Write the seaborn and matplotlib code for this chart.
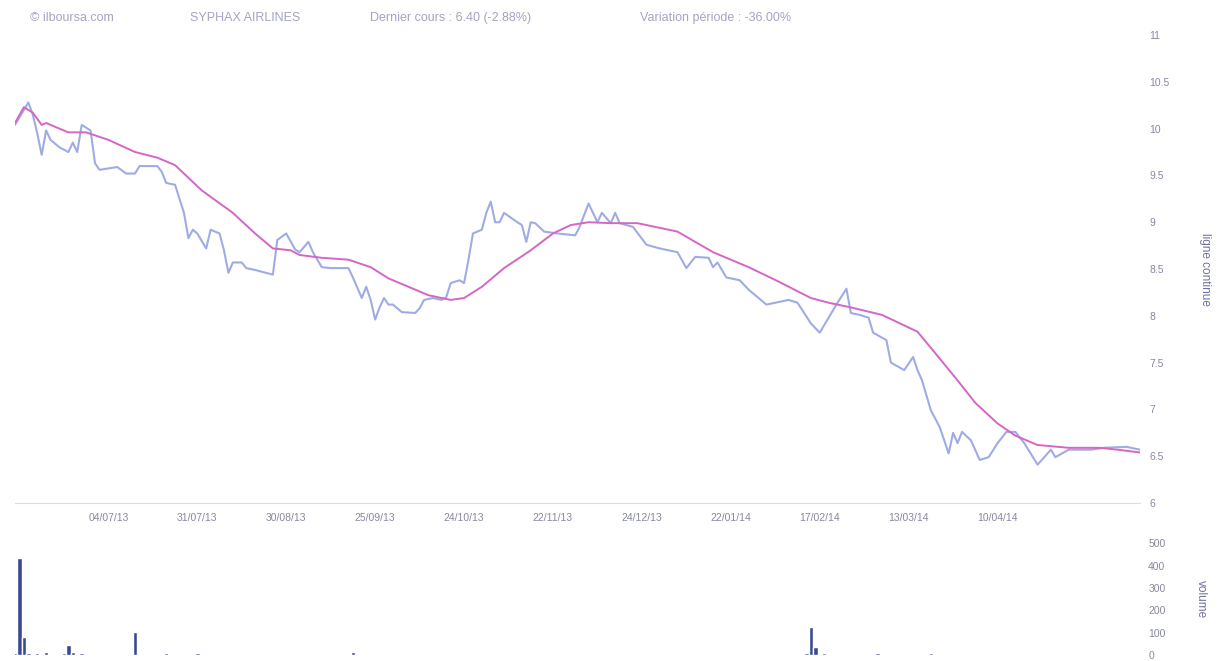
import pandas as pd
import seaborn as sns
import matplotlib.pyplot as plt

# sessions (trading-day index) and closing price
price_sessions = [0, 3, 4, 5, 6, 7, 8, 10, 12, 13, 14, 15, 17, 18, 19, 23, 25, 27, 28, 32,
                  33, 34, 36, 38, 39, 40, 41, 43, 44, 46, 47, 48, 49, 51, 52, 54, 58, 59, 61, 63,
                  64, 66, 67, 69, 71, 75, 76, 78, 79, 80, 81, 82, 83, 84, 85, 87, 90, 91, 92, 94,
                  96, 97, 98, 100, 101, 102, 103, 105, 106, 107, 108, 109, 110, 113, 114, 115, 116, 117, 119, 122,
                  126, 127, 129, 131, 132, 134, 135, 136, 139, 142, 145, 149, 151, 153, 156, 157, 158, 160, 163, 165,
                  167, 169, 174, 176, 179, 181, 185, 187, 188, 190, 192, 193, 196, 197, 200, 202, 203, 204, 206, 208,
                  210, 211, 212, 213, 215, 217, 219, 221, 223, 225, 227, 230, 233, 234, 237, 242, 245, 250, 253]
price = [10.04, 10.28, 10.15, 9.95, 9.72, 9.98, 9.88, 9.80, 9.75, 9.85, 9.75, 10.04, 9.98, 9.63, 9.56, 9.59, 9.52, 9.52, 9.60, 9.60,
         9.54, 9.42, 9.40, 9.10, 8.83, 8.92, 8.88, 8.72, 8.92, 8.88, 8.70, 8.46, 8.57, 8.57, 8.51, 8.49, 8.44, 8.81, 8.88, 8.71,
         8.68, 8.79, 8.68, 8.52, 8.51, 8.51, 8.41, 8.19, 8.31, 8.17, 7.96, 8.09, 8.19, 8.12, 8.12, 8.04, 8.03, 8.08, 8.17, 8.19,
         8.17, 8.20, 8.35, 8.38, 8.35, 8.60, 8.88, 8.92, 9.10, 9.22, 9.00, 9.00, 9.10, 9.00, 8.97, 8.79, 9.00, 8.99, 8.90, 8.88,
         8.86, 8.95, 9.20, 9.00, 9.10, 8.99, 9.10, 8.99, 8.95, 8.76, 8.72, 8.68, 8.51, 8.63, 8.62, 8.52, 8.57, 8.41, 8.38, 8.28,
         8.20, 8.12, 8.17, 8.14, 7.92, 7.82, 8.14, 8.29, 8.03, 8.01, 7.98, 7.82, 7.74, 7.50, 7.42, 7.56, 7.42, 7.31, 6.99, 6.81,
         6.53, 6.75, 6.64, 6.76, 6.67, 6.46, 6.49, 6.64, 6.76, 6.76, 6.64, 6.41, 6.57, 6.49, 6.57, 6.57, 6.59, 6.60, 6.57]

# moving average line
ma_sessions = [0, 2, 4, 6, 7, 12, 16, 21, 27, 32, 36, 42, 49, 54, 58, 62, 64, 69, 75, 80,
               84, 89, 93, 98, 101, 105, 110, 116, 121, 125, 129, 134, 140, 149, 157, 165, 172, 179, 183, 188,
               195, 203, 207, 212, 216, 221, 225, 230, 237, 244, 248, 253]
ma = [10.06, 10.23, 10.17, 10.04, 10.06, 9.96, 9.96, 9.88, 9.75, 9.69, 9.61, 9.34, 9.10, 8.88, 8.72, 8.70, 8.65, 8.62, 8.60, 8.52,
      8.40, 8.30, 8.22, 8.17, 8.19, 8.31, 8.51, 8.70, 8.88, 8.97, 9.00, 8.99, 8.99, 8.90, 8.68, 8.52, 8.36, 8.19, 8.14, 8.09,
      8.01, 7.83, 7.60, 7.31, 7.07, 6.85, 6.72, 6.62, 6.59, 6.59, 6.57, 6.54]

# traded volume
vol_sessions = [0, 1, 2, 3, 5, 7, 9, 11, 12, 13, 15, 20, 25, 27, 29, 34, 37, 39, 41, 43,
                45, 48, 59, 60, 63, 66, 69, 75, 76, 78, 80, 82, 84, 100, 120, 140, 151, 162, 175, 178,
                179, 180, 182, 184, 186, 190, 194, 198, 203, 206, 210, 212, 220, 224, 228, 240, 249]
volume = [8, 435, 80, 10, 8, 12, 6, 8, 45, 14, 10, 5, 4, 103, 6, 8, 6, 6, 7, 6,
          5, 4, 5, 6, 5, 6, 5, 5, 15, 6, 5, 6, 5, 4, 4, 4, 4, 4, 4, 8,
          125, 36, 8, 6, 6, 6, 7, 6, 6, 7, 6, 5, 6, 6, 5, 4, 4]

tick_labels = ['04/07/13', '31/07/13', '30/08/13', '25/09/13', '24/10/13', '22/11/13',
               '24/12/13', '22/01/14', '17/02/14', '13/03/14', '10/04/14']
tick_sessions = [21, 41, 61, 81, 101, 121, 141, 161, 181, 201, 221]

sns.set_style('white')
plt.rcParams['font.family'] = ['Liberation Sans', 'DejaVu Sans']

txt = '#a4a4c4'
fig = plt.figure(figsize=(12.2, 6.61), dpi=100)
ax = fig.add_axes([0.0123, 0.239, 0.922, 0.708])
axv = fig.add_axes([0.0123, 0.009, 0.922, 0.169])

sns.lineplot(x=price_sessions, y=price, ax=ax, color='#8e9ee0', linewidth=1.5, alpha=0.85)
sns.lineplot(x=ma_sessions, y=ma, ax=ax, color='#d466c6', linewidth=1.4)

ax.set_xlim(0, 253)
ax.set_ylim(6, 11)
ax.set_yticks([6, 6.5, 7, 7.5, 8, 8.5, 9, 9.5, 10, 10.5, 11])
ax.set_yticklabels(['6', '6.5', '7', '7.5', '8', '8.5', '9', '9.5', '10', '10.5', '11'])
ax.yaxis.tick_right()
ax.set_xticks(tick_sessions)
ax.set_xticklabels(tick_labels)
ax.tick_params(axis='both', length=0, labelsize=7.5, labelcolor='#8888a0', pad=7)
for s in ['top', 'left', 'right']:
    ax.spines[s].set_visible(False)
ax.spines['bottom'].set_color('#dcdcdc')
ax.spines['bottom'].set_linewidth(0.8)
ax.yaxis.set_label_position('right')
ax.set_ylabel('ligne continue', rotation=270, color='#7070a0', fontsize=8.5, labelpad=30)

sns.barplot(x=vol_sessions, y=volume, ax=axv, native_scale=True, color='#3b4a90',
            errorbar=None, width=1.0, saturation=1)
axv.set_xlim(0, 253)
axv.set_ylim(0, 500)
axv.set_yticks([0, 100, 200, 300, 400, 500])
axv.set_yticklabels(['0', '100', '200', '300', '400', '500'])
axv.yaxis.tick_right()
axv.set_xticks([])
axv.tick_params(axis='y', length=0, labelsize=7.5, labelcolor='#8888a0', pad=6)
for s in ['top', 'left', 'right', 'bottom']:
    axv.spines[s].set_visible(False)
axv.yaxis.set_label_position('right')
axv.set_ylabel('volume', rotation=270, color='#7070a0', fontsize=8.5, labelpad=30)
axv.set_xlabel('')

fig.text(30 / 1220, 1 - 18 / 661, '© ilboursa.com', color=txt, fontsize=9, va='center')
fig.text(190 / 1220, 1 - 18 / 661, 'SYPHAX AIRLINES', color=txt, fontsize=9, va='center')
fig.text(370 / 1220, 1 - 18 / 661, 'Dernier cours : 6.40 (-2.88%)', color=txt, fontsize=9, va='center')
fig.text(640 / 1220, 1 - 18 / 661, 'Variation période : -36.00%', color=txt, fontsize=9, va='center')

fig.savefig('out.png', dpi=100)
